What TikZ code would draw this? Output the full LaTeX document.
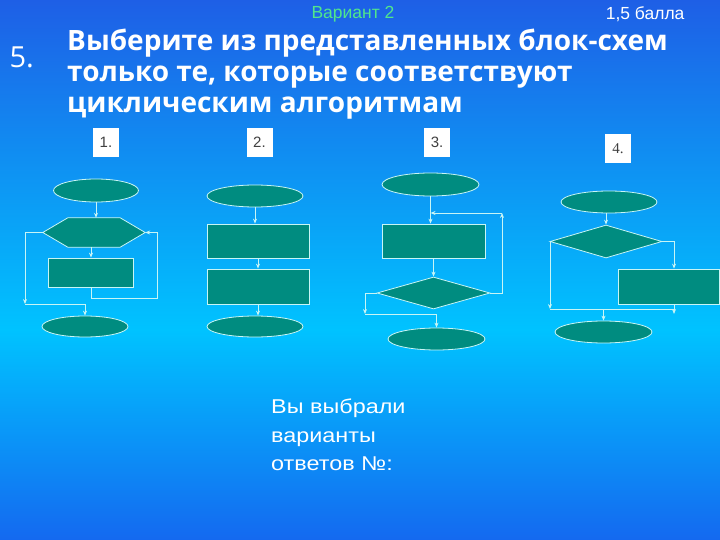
\documentclass[tikz,border=0pt]{standalone}
\usepackage{fontspec}
\setmainfont{Liberation Sans}
\newfontfamily\titlefont{Open Sans}
\newfontfamily\widefont[FakeStretch=1.17]{Liberation Sans}
\newfontfamily\serifnum{Liberation Serif}
\usetikzlibrary{shapes.geometric,arrows.meta}

\definecolor{bgtop}{RGB}{30,95,230}
\definecolor{bgmid}{RGB}{0,195,255}
\definecolor{bgbot}{RGB}{20,105,240}
\definecolor{blockfill}{RGB}{0,140,128}
\definecolor{blockline}{RGB}{200,245,245}
\definecolor{variant}{RGB}{80,230,140}

\begin{document}
\begin{tikzpicture}[x=1pt,y=-1pt,>={Stealth[length=5pt,width=4pt]}]
        \tikzstyle{block}=[draw=blockline,fill=blockfill,line width=0.8pt,inner sep=0pt]
        \tikzstyle{terminal}=[block,ellipse,minimum width=96pt,minimum height=22pt]
        \tikzstyle{process}=[block,rectangle,minimum width=102pt,minimum height=34pt]
        \tikzstyle{decision}=[block,diamond,minimum width=113pt,minimum height=32pt]
        \tikzstyle{flow}=[->,draw=blockline,line width=0.8pt]
        \tikzstyle{line}=[draw=blockline,line width=0.8pt]
        \tikzstyle{numbox}=[fill=white,text=black!75,minimum width=26pt,minimum height=29pt,inner sep=0pt,font=\fontsize{15}{15}\selectfont]

        % Background
        \useasboundingbox (0,0) rectangle (720,540);
        \fill[top color=bgtop,bottom color=bgmid] (0,0) rectangle (720,330);
        \fill[top color=bgmid,bottom color=bgbot] (0,329.5) rectangle (720,540);

        % Header and question
        \node[anchor=west,text=variant,font=\fontsize{17.5}{17.5}\selectfont] (var) at (308,14) {Вариант 2};
        \node[anchor=east,text=white,font=\fontsize{17.5}{17.5}\selectfont] (pts) at (688,14) {1,5 балла};
        \node[anchor=west,text=white,font=\titlefont\fontsize{29}{29}\selectfont] (qnum) at (6,57) {5.};
        \node[anchor=north west,align=left,text=white,inner sep=0pt,
              font=\titlefont\bfseries\fontsize{28}{31}\selectfont] (quest) at (67,29)
              {Выберите из представленных блок-схем\\только те, которые соответствуют\\циклическим алгоритмам};

        % Number the schemes
        \node[numbox] (n1) at (106,142.5) {1.};
        \node[numbox] (n2) at (259.5,142.5) {2.};
        \node[numbox] (n3) at (437,142.5) {3.};
        \node[numbox,font=\serifnum\fontsize{15}{15}\selectfont] (n4) at (618,149) {4.};

        % Scheme 1
        \node[terminal,minimum width=85pt,minimum height=23pt] (s1) at (96,190.5) {};
        \node[inner sep=0pt,minimum width=102pt,minimum height=29pt] (h1) at (94,232.5) {};
        \draw[block] (h1.west) -- ([xshift=25pt]h1.north west) -- ([xshift=-25pt]h1.north east)
              -- (h1.east) -- ([xshift=-25pt]h1.south east) -- ([xshift=25pt]h1.south west) -- cycle;
        \node[process,minimum width=85pt,minimum height=29pt] (p1) at (91,272.5) {};
        \node[terminal,minimum width=86pt,minimum height=21pt] (e1) at (85,326.5) {};
        \coordinate (r1) at (157,298);
        \coordinate (l1) at (25,304);
        \draw[flow] (s1.south) -- (s1.south |- h1.north);
        \draw[flow] (p1.north |- h1.south) -- (p1.north);
        \draw[flow] (p1.south) |- (r1) |- (h1.east);
        \draw[flow] (h1.west) -| (l1);
        \draw[flow] (l1) -| (e1.north);

        % Scheme 2
        \node[terminal] (s2) at (255,196) {};
        \node[process] (p2a) at (258,241) {};
        \node[process,minimum height=35pt] (p2b) at (258,286.5) {};
        \node[terminal,minimum height=21pt] (e2) at (255,326.5) {};
        \draw[flow] (s2.south) -- (s2.south |- p2a.north);
        \draw[flow] (p2a.south) -- (p2b.north);
        \draw[flow] (p2b.south) -- (p2b.south |- e2.north);

        % Scheme 3
        \node[terminal,minimum width=97pt,minimum height=23pt] (s3) at (430.5,184.5) {};
        \node[process,minimum width=103pt] (p3) at (433.5,241) {};
        \node[decision] (d3) at (433.5,293) {};
        \node[terminal,minimum width=97pt] (e3) at (436.5,339) {};
        \coordinate (r3) at (502,213);
        \coordinate (l3) at (365,314);
        \draw[flow] (s3.south) -- (s3.south |- p3.north);
        \draw[flow] (p3.south) -- (d3.north);
        \draw[flow] (d3.east) -| (r3);
        \draw[flow] (r3) -- (r3 -| s3.south);
        \draw[flow] (d3.west) -| (l3);
        \draw[flow] (l3) -| (e3.north);

        % Scheme 4
        \node[terminal] (s4) at (609,202) {};
        \node[decision,minimum width=112pt,minimum height=33pt] (d4) at (606,241.5) {};
        \node[process,minimum width=101pt,minimum height=35pt] (p4) at (668.5,286.5) {};
        \node[terminal,minimum width=97pt] (e4) at (603.5,332) {};
        \coordinate (r4) at ([xshift=5.5pt]p4.north);
        \coordinate (b4) at ([xshift=5.5pt]p4.south);
        \coordinate (l4) at (550,309);
        \coordinate (j4) at (674,314);
        \draw[flow] (d4.north |- s4.south) -- (d4.north);
        \draw[flow] (d4.east) -| (r4);
        \draw[flow] (b4) -- (j4);
        \draw[flow] (d4.west) -| (l4);
        \draw[line] (l4) -- (l4 -| j4);
        \draw[flow] (e4.north |- l4) -- (e4.north);

        % Answer prompt
        \node[anchor=north west,align=left,inner sep=0pt,text=white,
              font=\widefont\fontsize{20}{28.5}\selectfont] (ans) at (271,399)
              {Вы выбрали\\варианты\\ответов №:};
\end{tikzpicture}
\end{document}
